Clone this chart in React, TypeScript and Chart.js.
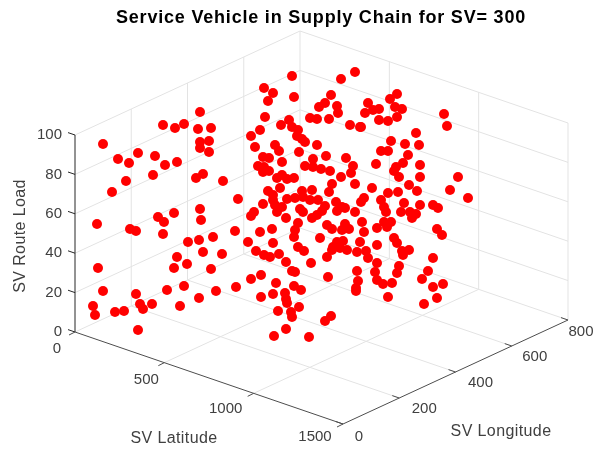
import React, { useEffect, useRef } from "react";
import { Chart, registerables } from "chart.js";

Chart.register(...registerables);

const titleText = "Service Vehicle in Supply Chain for SV= 300";
const latitudeTicks = [0, 500, 1000, 1500];
const longitudeTicks = [0, 200, 400, 600, 800];
const loadTicks = [0, 20, 40, 60, 80, 100];

// Marker positions, in the plane of the 3-D view
const viewX = [103,118,129,138,155,165,177,153,126,112,163,175,184,200,198,211,200,209,200,209,203,196,223,238,
97,130,136,158,164,174,163,200,201,188,199,213,235,203,222,177,187,174,211,98,103,136,167,184,216,236,199,180,152,140,143,124,115,93,95,138,
292,264,273,268,294,265,289,281,292,298,260,251,297,302,305,255,275,279,299,317,263,269,282,313,326,346,355,341,331,325,319,337,338,329,310,317,350,360,
258,264,263,269,305,313,321,330,353,351,341,355,332,329,282,277,287,294,280,268,273,287,295,302,312,303,310,318,273,263,275,282,277,254,251,286,300,303,312,317,322,325,336,342,337,345,355,361,364,298,295,294,320,327,332,345,342,349,362,364,260,272,248,273,360,298,304,343,337,333,340,347,357,366,332,
256,264,270,279,286,311,327,292,295,328,357,358,356,356,251,261,276,294,301,261,273,285,286,287,299,278,291,292,331,325,286,274,309,
397,390,368,365,373,379,395,402,397,388,379,361,444,447,416,391,405,419,381,388,408,376,403,396,420,394,399,420,458,409,450,372,388,398,417,
468,381,384,386,404,401,410,416,412,420,433,438,391,384,377,387,437,442,394,397,409,402,403,377,368,433,377,375,399,397,428,422,377,383,392,433,443,437,388,424];
const viewY = [144,159,163,153,156,165,162,175,181,192,125,128,124,112,129,128,142,141,148,152,174,178,181,199,
224,229,231,217,222,213,234,209,220,242,240,237,231,252,254,257,264,268,269,268,291,294,290,286,291,287,298,306,304,304,309,311,312,306,315,330,
76,88,93,101,97,117,120,125,127,130,130,136,136,139,142,147,145,151,152,145,157,158,162,159,156,158,72,79,95,103,107,106,113,119,118,119,125,127,
166,167,172,171,166,167,169,171,166,173,177,184,184,192,175,178,179,178,188,191,195,199,198,191,190,197,200,200,200,204,205,207,212,212,216,218,209,212,218,215,211,206,202,207,211,208,212,202,198,223,230,237,238,225,229,224,230,229,222,232,232,229,242,243,242,247,251,241,242,247,248,250,252,251,250,
251,255,257,254,262,263,257,271,272,277,271,281,288,291,279,275,283,286,290,297,294,293,299,303,307,311,312,317,316,321,329,336,337,
94,99,103,113,110,109,107,109,117,121,120,127,114,126,133,141,144,145,151,151,155,164,163,167,165,171,177,177,177,185,190,188,193,192,191,
198,200,207,212,203,212,212,214,218,205,205,208,222,222,228,227,229,235,238,243,250,251,255,245,258,258,263,272,266,273,271,279,280,284,283,287,284,298,297,304];

const ORIGIN = { x: 75, y: 332 };
const LAT_SPAN = { x: 268, y: 92, max: 1500 };
const LON_SPAN = { x: 225, y: -104, max: 800 };
const LOAD_SPAN = { y: -197, max: 100 };

function project(lat: number, lon: number, load: number) {
  const a = lat / LAT_SPAN.max;
  const b = lon / LON_SPAN.max;
  const c = load / LOAD_SPAN.max;
  return {
    x: ORIGIN.x + a * LAT_SPAN.x + b * LON_SPAN.x,
    y: ORIGIN.y + a * LAT_SPAN.y + b * LON_SPAN.y + c * LOAD_SPAN.y,
  };
}

function gridPath(): any[] {
  const out: any[] = [];
  const seg = (p: { x: number; y: number }, q: { x: number; y: number }) => {
    out.push(p, q, { x: q.x, y: null });
  };
  const latMax = LAT_SPAN.max;
  const lonMax = LON_SPAN.max;
  const loadMax = LOAD_SPAN.max;
  latitudeTicks.forEach((t) => { if (t > 0 && t < latMax) seg(project(t, 0, 0), project(t, lonMax, 0)); });
  longitudeTicks.forEach((t) => { if (t > 0 && t < lonMax) seg(project(0, t, 0), project(latMax, t, 0)); });
  seg(project(0, lonMax, 0), project(latMax, lonMax, 0));
  seg(project(0, 0, 0), project(0, lonMax, 0));
  longitudeTicks.forEach((t) => { if (t > 0) seg(project(0, t, 0), project(0, t, loadMax)); });
  loadTicks.forEach((t) => { if (t > 0) seg(project(0, 0, t), project(0, lonMax, t)); });
  latitudeTicks.forEach((t) => { if (t > 0) seg(project(t, lonMax, 0), project(t, lonMax, loadMax)); });
  loadTicks.forEach((t) => { if (t > 0) seg(project(0, lonMax, t), project(latMax, lonMax, t)); });
  return out;
}

function axisPath(): { lat: any[]; lon: any[]; load: any[] } {
  const lat: any[] = [], lon: any[] = [], load: any[] = [];
  const tick = (arr: any[], p: any, dx: number, dy: number) => {
    arr.push(p, { x: p.x + dx, y: p.y + dy }, { x: p.x, y: null });
  };
  lat.push(project(0, 0, 0), project(LAT_SPAN.max, 0, 0), { x: 0, y: null });
  latitudeTicks.forEach((t) => tick(lat, project(t, 0, 0), -6, 3));
  lon.push(project(LAT_SPAN.max, 0, 0), project(LAT_SPAN.max, LON_SPAN.max, 0), { x: 0, y: null });
  longitudeTicks.forEach((t) => tick(lon, project(LAT_SPAN.max, t, 0), -7, -2.4));
  load.push(project(0, 0, 0), project(0, 0, LOAD_SPAN.max), { x: 0, y: null });
  loadTicks.forEach((t) => tick(load, project(0, 0, t), -7, -2.4));
  return { lat, lon, load };
}

const TEXT = "#404040";
const FONT = '"Liberation Sans", Arial, sans-serif';

const latOffset = [[-18, 17], [-18, 17], [-28, 15.5], [-28, 13]];
const lonOffset = [[16, 13], [25, 11], [25, 11], [23, 11], [13, 12]];

const textPlugin = {
  id: "viewText",
  afterDraw(chart: any) {
    const { ctx } = chart;
    const sx = chart.scales.x;
    const sy = chart.scales.y;
    const put = (s: string, x: number, y: number, align: CanvasTextAlign = "center") => {
      ctx.textAlign = align;
      ctx.fillText(s, sx.getPixelForValue(x), sy.getPixelForValue(y));
    };
    ctx.save();
    ctx.textBaseline = "middle";
    ctx.fillStyle = "#000000";
    ctx.font = `bold 18px ${FONT}`;
    (ctx as any).letterSpacing = "0.8px";
    put(titleText, 321, 18);
    ctx.fillStyle = TEXT;
    ctx.font = `15px ${FONT}`;
    (ctx as any).letterSpacing = "0px";
    loadTicks.forEach((t) => {
      const p = project(0, 0, t);
      put(String(t), 62, p.y, "right");
    });
    latitudeTicks.forEach((t, i) => {
      const p = project(t, 0, 0);
      put(String(t), p.x + latOffset[i][0], p.y + latOffset[i][1]);
    });
    longitudeTicks.forEach((t, i) => {
      const p = project(LAT_SPAN.max, t, 0);
      put(String(t), p.x + lonOffset[i][0], p.y + lonOffset[i][1]);
    });
    ctx.font = `16px ${FONT}`;
    (ctx as any).letterSpacing = "0.4px";
    put("SV Latitude", 174, 439);
    put("SV Longitude", 501, 432);
    ctx.save();
    ctx.translate(sx.getPixelForValue(21), sy.getPixelForValue(236));
    ctx.rotate(-Math.PI / 2);
    ctx.textAlign = "center";
    ctx.fillText("SV Route Load", 0, 0);
    ctx.restore();
    ctx.restore();
  },
};

export default function App() {
  const ref = useRef<HTMLCanvasElement>(null);
  useEffect(() => {
    document.body.style.margin = "0";
    const axes = axisPath();
    const lineBase = { type: "line" as const, pointRadius: 0, spanGaps: false, tension: 0, fill: false };
    const chart = new Chart(ref.current!, {
      type: "scatter",
      data: {
        datasets: [
          {
            label: "Service vehicles",
            data: viewX.map((x, i) => ({ x, y: viewY[i] })),
            backgroundColor: "#ff0000",
            borderColor: "#ff0000",
            pointRadius: 5,
            pointBorderWidth: 0,
            order: 0,
          },
          { ...lineBase, label: "grid", data: gridPath(), borderColor: "#e3e3e3", borderWidth: 1, order: 5 },
          { ...lineBase, label: "lat", data: axes.lat, borderColor: "#4d4d4d", borderWidth: 1, order: 4 },
          { ...lineBase, label: "lon", data: axes.lon, borderColor: "#4d4d4d", borderWidth: 1, order: 4 },
          { ...lineBase, label: "load", data: axes.load, borderColor: "#262626", borderWidth: 1, order: 4 },
        ] as any,
      },
      options: {
        responsive: false,
        animation: false,
        layout: { padding: 0, autoPadding: false },
        plugins: { legend: { display: false }, title: { display: false }, tooltip: { enabled: false } },
        scales: {
          x: { type: "linear", min: 0, max: 606, display: false },
          y: { type: "linear", min: 0, max: 450, reverse: true, display: false },
        },
      },
      plugins: [textPlugin],
    });
    return () => chart.destroy();
  }, []);
  return <canvas ref={ref} width={606} height={450} style={{ display: "block" }} />;
}
